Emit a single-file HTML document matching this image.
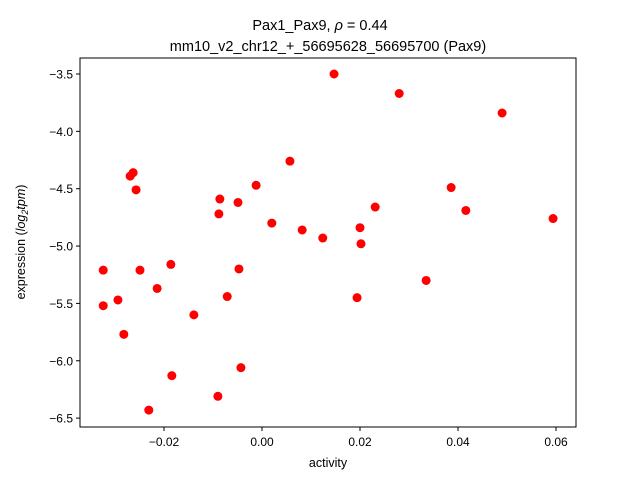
<!DOCTYPE html>
<html><head><meta charset="utf-8"><style>
body{margin:0;background:#fff}
svg text{font-family:"Liberation Sans","DejaVu Sans",sans-serif;fill:#000}
</style></head><body>
<svg width="640" height="480">
<rect x="0" y="0" width="640" height="480" fill="#fff"/>
<g id="marks"></g>
<rect x="80" y="58" width="496" height="369" fill="none" stroke="#000" stroke-width="1"/>
<g id="xt"></g>
<g id="yt"></g>
<text x="320" y="30" text-anchor="middle" font-size="14.5">Pax1_Pax9, <tspan font-style="italic">ρ</tspan> = 0.44</text>
<text x="328" y="51" text-anchor="middle" font-size="14.5">mm10_v2_chr12_+_56695628_56695700 (Pax9)</text>
<text x="328" y="467" text-anchor="middle" font-size="12.5">activity</text>
<text transform="translate(25,242) rotate(-90)" text-anchor="middle" font-size="12.5">expression (<tspan font-style="italic">log</tspan><tspan font-size="9" dy="3" font-style="italic">2</tspan><tspan dy="-3" font-style="italic">tpm</tspan>)</text>
</svg>
<script>
const xVals=[-0.0324,-0.0324,-0.0294,-0.0282,-0.0269,-0.0263,-0.0257,-0.0249,-0.0231,-0.0214,-0.0186,-0.0184,-0.0139,-0.0090,-0.0088,-0.0086,-0.0071,-0.0049,-0.0047,-0.0043,-0.0012,0.0020,0.0057,0.0082,0.0124,0.0147,0.0194,0.0200,0.0202,0.0231,0.0280,0.0335,0.0386,0.0416,0.0490,0.0594];
const yVals=[-5.21,-5.52,-5.47,-5.77,-4.39,-4.36,-4.51,-5.21,-6.43,-5.37,-5.16,-6.13,-5.60,-6.31,-4.72,-4.59,-5.44,-4.62,-5.20,-6.06,-4.47,-4.80,-4.26,-4.86,-4.93,-3.50,-5.45,-4.84,-4.98,-4.66,-3.67,-5.30,-4.49,-4.69,-3.84,-4.76];
const xTicks=[-0.02,0.00,0.02,0.04,0.06];
const xTickLabels=["−0.02","0.00","0.02","0.04","0.06"];
const yTicks=[-3.5,-4.0,-4.5,-5.0,-5.5,-6.0,-6.5];
const yTickLabels=["−3.5","−4.0","−4.5","−5.0","−5.5","−6.0","−6.5"];
const NS="http://www.w3.org/2000/svg";
const sx=v=>262+v*4900;
const sy=v=>74+(-3.5-v)*114.7;
const mk=(t,a,p)=>{const e=document.createElementNS(NS,t);for(const k in a)e.setAttribute(k,a[k]);p.appendChild(e);return e;};
const m=document.getElementById('marks');
xVals.forEach((x,i)=>{
 const c=mk('circle',{cx:sx(x),cy:sy(yVals[i]),r:4.5,fill:'#ff0000'},m);
 
 
});
const xt=document.getElementById('xt');
xTicks.forEach((v,i)=>{
 const x=sx(v);
 mk('line',{x1:x,x2:x,y1:427,y2:431,stroke:'#000'},xt);
 const t=mk('text',{x:x,y:446,'text-anchor':'middle','font-size':'12'},xt);
 t.textContent=xTickLabels[i];
 
 
});
const yt=document.getElementById('yt');
yTicks.forEach((v,i)=>{
 const y=sy(v);
 mk('line',{x1:76,x2:80,y1:y,y2:y,stroke:'#000'},yt);
 const t=mk('text',{x:73,y:y+4.5,'text-anchor':'end','font-size':'12'},yt);
 t.textContent=yTickLabels[i];
 
 
});
</script>
</body></html>
